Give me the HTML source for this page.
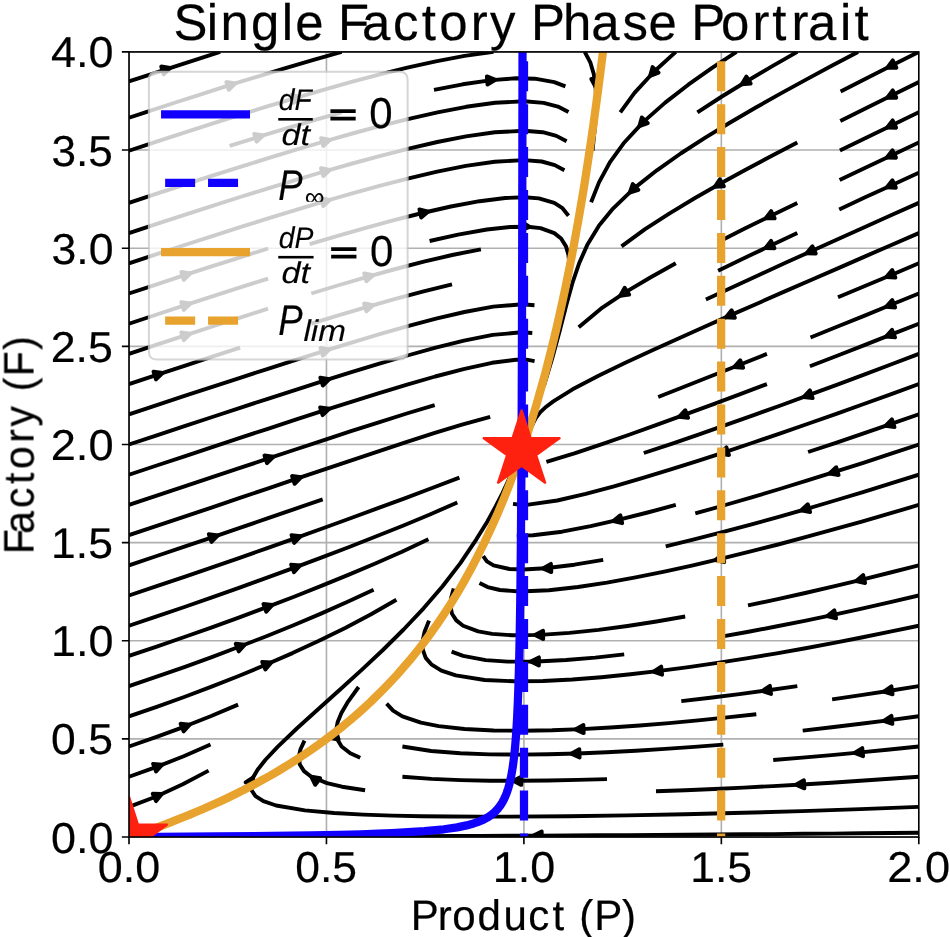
<!DOCTYPE html>
<html lang="en"><head><meta charset="utf-8"><title>Single Factory Phase Portrait</title>
<style>html,body{margin:0;padding:0;background:#fff}body{width:950px;height:937px;overflow:hidden}svg{display:block}text{font-family:"Liberation Sans",sans-serif;font-size:100px;fill:#000;stroke:#000;stroke-width:0.45px;text-rendering:geometricPrecision}</style>
</head><body>
<svg width="950" height="937" viewBox="0 0 950 937">
<defs><clipPath id="ax"><rect x="129" y="51.9" width="789.8" height="785.15"/></clipPath></defs>
<rect width="950" height="937" fill="#fff"/>
<g clip-path="url(#ax)">
<path id="grid" d="M129 51.9V837.05M326.45 51.9V837.05M523.9 51.9V837.05M721.35 51.9V837.05M918.8 51.9V837.05M129 837.05H918.8M129 738.91H918.8M129 640.76H918.8M129 542.62H918.8M129 444.47H918.8M129 346.33H918.8M129 248.19H918.8M129 150.04H918.8M129 51.9H918.8" fill="none" stroke="#b0b0b0" stroke-width="1.63"/>
<g id="streamlines" fill="none" stroke="#000" stroke-width="3.9" stroke-linejoin="round">
<path d="M918.8 832.8 L890.6 833 L861.4 833.3 L832.1 833.6 L802.9 833.8 L773.6 834.1 L744.4 834.3 L715.1 834.5 L685.9 834.7 L656.6 834.9 L627.4 835.1 L598.1 835.3 L568.9 835.4 L539.6 835.6 L510.4 835.7 L481.1 835.9 L451.9 836 L422.6 836.1 L393.4 836.2 L364.1 836.3 L334.9 836.5 L305.6 836.6 L276.4 836.7 L247.1 836.7 L217.9 836.8 L188.6 836.9 L159.4 837 L159.4 837"/>
<path d="M918.8 806.9 L860.3 809.1 L801.9 811.1 L743.4 812.8 L684.9 814.2 L626.4 815.4 L567.9 816.2 L509.4 816.6 L480.2 816.6 L450.9 816.5 L421.7 816.2 L392.4 815.6 L363.2 814.6 L334 813 L304.9 810.4 L276.1 805.5 L276.1 805.5 L263.4 801.2 L263.4 801.2 L255.5 796.1 L251.7 790.5 L251.2 783.6 L253.2 777.3 L257.6 769.7 L265.3 760 L277.6 746.9 L296.8 728.5 L318.4 709 L340.1 689.5 L361.7 669.9 L382.9 650 L403.6 629.5 L423.6 608.3 L442.6 586.3 L460.2 563.4 L476.2 539.6 L476.2 539.6 L487.4 521.4 L487.4 521.4 L495.9 506 L495.9 506 L502.5 493.1 L502.5 493.1 L507.4 482.7 L511.3 473.3 L511.3 473.3 L513.6 469.1 L515.3 465.8 L516.9 461.8 L516.9 461.8 L518.2 457.9 L518.2 457.9 L518.6 455.8 L518.6 455.8 L520.7 452.9 L521 452.4 L521.1 451.8 L520.7 451.5 L520.7 451.5 L521.3 450.9 L521.2 450.9 L520.9 450.9 L521.1 450.8 L521.4 450.6 L520.9 450.8 L521.2 450.7 L521 450.7 L521.4 450.6 L521.4 450.6"/>
<path d="M918.8 776.7 L918.8 776.7 L889.6 778.8 L860.4 780.8 L831.3 782.7 L802.1 784.5 L772.9 786.1 L743.6 787.6 L714.4 789 L685.2 790.2 L656 791.3"/>
<path d="M918.8 746.5 L918.8 746.5 L889.7 749.5 L860.6 752.4 L831.5 755.1 L802.3 757.6 L773.2 760"/>
<path d="M918.8 716.3 L918.8 716.3 L889.8 720.1 L860.8 723.8 L831.8 727.3 L802.7 730.6"/>
<path d="M918.8 686.1 L918.8 686.1 L889.9 690.7 L861 695.1 L832.1 699.4"/>
<path d="M918.8 625.7 L918.8 625.7 L890.2 631.7 L861.5 637.5 L832.8 643.1 L804.1 648.5 L775.3 653.6 L746.4 658.4 L717.5 662.9 L688.6 667.1 L659.6 670.9 L630.5 674.3 L601.4 677.2 L572.3 679.5 L543.1 681 L513.8 681.3 L484.6 680 L455.8 675.4 L455.8 675.4 L441.4 670.6 L441.4 670.6 L431.7 664.7 L431.7 664.7 L425.7 657.9 L422.7 649.3 L422.6 641 L424.6 631.7 L429 620.6"/>
<path d="M918.8 595.5 L918.8 595.5 L890.3 602.1 L861.8 608.6 L833.2 614.8 L804.6 620.8 L775.9 626.5 L747.2 632 L718.4 637.1"/>
<path d="M918.8 565.3 L918.8 565.3 L890.5 572.5 L862.1 579.6 L833.7 586.4 L805.2 593 L776.6 599.3 L748 605.4"/>
<path d="M918.8 504.9 L918.8 504.9 L890.8 513.2 L862.7 521.3 L834.5 529.2 L806.3 536.9 L778.1 544.5 L749.7 551.7 L721.3 558.7 L692.9 565.3 L664.3 571.6 L635.6 577.4 L606.9 582.6 L578 587 L548.9 590.3 L519.7 591.5 L519.7 591.5 L499.9 590 L499.9 590 L487.6 587.1 L487.6 587.1 L479.5 582.9 L479.5 582.9"/>
<path d="M918.8 474.7 L918.8 474.7 L890.9 483.4 L863 492.1 L835 500.5 L806.9 508.8 L778.8 516.8 L750.7 524.6 L722.4 532.2 L694.1 539.4 L665.7 546.3"/>
<path d="M918.8 444.5 L918.8 444.5 L891.1 453.7 L863.3 462.8 L835.4 471.7 L807.5 480.4 L779.6 489 L751.6 497.4 L723.5 505.5 L695.3 513.4"/>
<path d="M918.8 414.3 L918.8 414.3 L891.2 423.9 L863.6 433.4 L835.9 442.8 L808.1 452"/>
<path d="M918.8 384.1 L918.8 384.1 L891.3 394.1 L863.8 404 L836.3 413.8 L808.7 423.5 L781.1 433.1 L753.4 442.5 L725.7 451.8 L697.9 460.8 L670 469.7 L642.1 478.2 L614 486.3 L585.7 493.9 L557.3 500.5 L528.4 504.6 L528.4 504.6 L520 504.8 L520 504.8 L513 503.9 L513 503.9"/>
<path d="M918.8 353.9 L918.8 353.9 L891.5 364.3 L864.1 374.6 L836.7 384.8 L809.3 394.9 L781.9 405 L754.4 414.9 L726.8 424.7 L699.2 434.3 L671.6 443.8 L643.8 453"/>
<path d="M918.8 323.7 L918.8 323.7 L891.6 334.4 L864.4 345.1 L837.2 355.7 L809.9 366.3"/>
<path d="M918.8 293.5 L918.8 293.5 L891.7 304.5 L864.7 315.6 L837.6 326.5 L810.5 337.5"/>
<path d="M918.8 263.3 L918.8 263.3 L891.9 274.7 L864.9 286 L838 297.3"/>
<path d="M918.8 233.1 L918.8 233.1 L892 244.7 L865.2 256.4 L838.4 268.1 L811.6 279.7 L784.8 291.4 L758.1 303.2 L731.3 314.9 L704.6 326.7 L677.9 338.7 L651.3 350.7 L624.8 363 L598.5 375.8 L572.6 389.3 L572.6 389.3 L553.3 401.4 L553.3 401.4 L546.2 406.7 L546.2 406.7 L540.1 412.4 L540.1 412.4 L535.8 418.2 L535.8 418.2 L532.9 423.7 L530.6 428.7"/>
<path d="M918.8 202.9 L918.8 202.9 L892.1 214.8 L865.5 226.8 L838.8 238.8 L812.2 250.8 L785.5 262.8 L759 275 L732.4 287.2 L705.9 299.5"/>
<path d="M918.8 172.7 L918.8 172.7 L892.2 184.9 L865.7 197.1 L839.2 209.4"/>
<path d="M918.8 142.5 L918.8 142.5 L892.4 154.9 L865.9 167.4 L839.6 180"/>
<path d="M918.8 112.3 L918.8 112.3 L892.5 125 L866.2 137.7 L839.9 150.5"/>
<path d="M918.8 82.1 L918.8 82.1 L892.6 95 L866.4 108 L840.3 121.1"/>
<path d="M918.8 51.9 L918.8 51.9 L892.7 65 L866.6 78.2 L840.6 91.6"/>
<path d="M858 51.9 L858 51.9 L832.2 65.5 L806.5 79.4 L780.9 93.4 L755.4 107.8 L730.2 122.5 L705.3 137.7 L680.7 153.5 L656.9 170.3 L634 188.4 L613 208.6 L613 208.6 L599.1 225.5 L587.2 245.1 L579.2 263.1 L572.8 281.8 L566.8 303.2 L559.8 330.4 L552.2 358.4 L543.9 385.9 L543.9 385.9"/>
<path d="M797.3 51.9 L797.3 51.9 L771.9 66.4 L746.8 81.2 L721.9 96.5 L697.4 112.4"/>
<path d="M736.5 51.9 L736.5 51.9 L712.1 67.9 L688.3 84.7 L665.2 102.6 L643.4 121.9 L623.6 143.3 L623.6 143.3 L610.2 161.8 L599 182.4 L591.1 202.3"/>
<path d="M675.8 51.9 L675.8 51.9 L654.2 71.5 L634.5 92.9 L634.5 92.9 L620.3 112.4"/>
<path d="M584.7 51.9 L584.7 51.9 L584.7 51.9 L590.3 62.4 L593.7 73.7 L595.6 87.2 L596.2 103.8 L595.2 124.6 L592.5 150.9"/>
<path d="M129 150.7 L155 142.2 L182.8 133.1 L210.6 124.2 L238.5 115.4 L266.4 106.7 L294.4 98.3 L322.5 90.1 L350.6 82.2 L378.9 74.7 L407.3 67.7 L435.8 61.3 L464.6 55.9 L493.5 51.9 L493.5 51.9"/>
<path d="M129 117.7 L146.1 112.1 L173.9 103 L201.7 94.1 L229.5 85.2 L257.5 76.6 L285.5 68.1 L313.5 59.9 L341.6 51.9 L341.6 51.9"/>
<path d="M129 81.4 L136.7 78.9 L164.5 69.8 L192.3 60.8 L220.1 51.9 L220.1 51.9"/>
<path d="M129 202.9 L129 202.9 L156.8 193.7 L184.6 184.7 L212.4 175.7 L240.3 166.9 L268.2 158.2 L296.2 149.7 L324.2 141.5 L352.3 133.5 L380.6 125.9 L408.9 118.8 L437.5 112.3 L466.2 106.8 L495.1 102.8 L524.3 101.3 L524.3 101.3 L543.6 102.9 L543.6 102.9 L557.9 106.6 L557.9 106.6 L568.5 112.1"/>
<path d="M129 233.1 L129 233.1 L156.8 223.9 L184.6 214.9 L212.4 205.9 L240.2 197 L268.2 188.3 L296.1 179.8 L324.2 171.5 L352.3 163.5 L380.5 155.8 L408.8 148.6 L437.3 142 L466 136.4 L494.9 132.3 L524.1 130.7 L524.1 130.7 L542.7 132.2 L542.7 132.2 L556.4 135.9 L556.4 135.9 L566.6 141.3"/>
<path d="M129 263.3 L129 263.3 L156.8 254.1 L184.6 245 L212.4 236.1 L240.2 227.2 L268.1 218.4 L296.1 209.9 L324.1 201.5 L352.2 193.4 L380.4 185.7 L408.7 178.4 L437.2 171.7 L465.8 165.9 L494.7 161.7 L523.9 160.1 L523.9 160.1 L541.7 161.5 L541.7 161.5 L554.8 165.1 L554.8 165.1 L564.4 170.3"/>
<path d="M129 293.5 L129 293.5 L156.8 284.3 L184.5 275.2 L212.4 266.2 L240.2 257.3 L268.1 248.5"/>
<path d="M129 323.7 L129 323.7 L156.8 314.5 L184.5 305.4 L212.3 296.4 L240.2 287.4 L268.1 278.6"/>
<path d="M129 353.9 L129 353.9 L156.8 344.7 L184.5 335.6 L212.3 326.5 L240.2 317.6 L268 308.7"/>
<path d="M129 384.1 L129 384.1 L156.8 374.9 L184.5 365.8 L212.3 356.7 L240.1 347.7"/>
<path d="M129 414.3 L129 414.3 L156.8 405.1 L184.5 395.9 L212.3 386.8 L240.1 377.8 L267.9 368.8 L295.8 359.9 L323.7 351.1 L351.6 342.6 L379.6 334.2 L407.8 326.2 L436 318.7 L464.5 312 L493.2 306.6 L522.3 304.3 L522.3 304.3 L534.5 305.2 L534.5 305.2"/>
<path d="M129 444.5 L129 444.5 L156.8 435.3 L184.5 426.1 L212.3 417 L240.1 407.8 L267.8 398.8 L295.7 389.8 L323.5 380.9 L351.4 372.2 L379.4 363.7 L407.5 355.5 L435.7 347.7 L464 340.7 L492.7 334.9 L521.7 332.3 L521.7 332.3 L532.3 333 L532.3 333"/>
<path d="M129 474.7 L129 474.7 L156.7 465.5 L184.5 456.3 L212.2 447.1 L240 437.9 L267.8 428.8 L295.6 419.7 L323.4 410.7 L351.2 401.8 L379.1 393.1 L407.1 384.6 L435.2 376.5 L463.5 369.1 L492 362.8 L492 362.8 L516 359.7 L516 359.7 L526.5 359.7 L526.5 359.7 L534.6 361.2 L534.6 361.2"/>
<path d="M129 504.9 L129 504.9 L156.7 495.7 L184.5 486.4 L212.2 477.2 L240 467.9 L267.7 458.7 L295.4 449.5 L323.2 440.3 L351 431.2 L378.8 422.3 L406.7 413.5 L434.7 405.1"/>
<path d="M129 535.1 L129 535.1 L156.7 525.8 L184.5 516.6 L212.2 507.3 L239.9 497.9 L267.6 488.6 L295.3 479.2 L323 469.9 L350.7 460.6 L378.4 451.3 L406.2 442.2 L434 433.2 L462 424.7 L490.2 416.9 L490.2 416.9"/>
<path d="M129 565.3 L129 565.3 L156.7 556 L184.4 546.7 L212.1 537.3 L239.8 527.9 L267.4 518.4 L295.1 508.8 L322.7 499.3"/>
<path d="M129 595.5 L129 595.5 L156.7 586.2 L184.4 576.8 L212.1 567.4 L239.7 557.8 L267.3 548.1 L294.8 538.3 L322.3 528.5 L349.8 518.5 L377.3 508.4 L404.7 498.3 L432.1 488 L459.4 477.6"/>
<path d="M129 625.7 L129 625.7 L156.7 616.4 L184.4 607 L212 597.4 L239.6 587.6 L267.1 577.7 L294.5 567.6 L321.9 557.4 L349.2 547 L376.4 536.3 L403.5 525.5 L430.5 514.2 L457.3 502.5"/>
<path d="M129 655.9 L129 655.9 L156.7 646.6 L184.4 637 L211.9 627.3 L239.4 617.3 L266.8 607.1 L294.1 596.7 L321.3 585.9 L348.3 574.9 L375.3 563.5 L402 551.7 L428.4 539.3"/>
<path d="M129 686.1 L129 686.1 L156.7 676.7 L184.3 667.1 L211.8 657.1 L239.1 646.8 L266.4 636.2 L293.5 625.2 L320.4 613.9 L347.1 602 L373.6 589.7"/>
<path d="M129 716.3 L129 716.3 L156.7 706.8 L184.2 697 L211.6 686.7 L238.7 676 L265.7 664.8 L292.5 653.1 L319 640.8 L345.2 627.9 L371.1 614.3 L396.4 599.7"/>
<path d="M129 746.5 L129 746.5 L156.6 736.9 L184 726.8 L211.2 716 L238.1 704.6"/>
<path d="M129 776.7 L129 776.7 L156.6 766.9 L183.7 756.2 L210.5 744.5"/>
<path d="M129 806.9 L129 806.9 L156.3 796.5 L182.8 784.3 L208.6 770.6"/>
<path d="M434 89.9 L462.7 84.3 L491.6 80.1 L516.2 78.3 L534.8 78.7 L554.3 82.1 L554.3 82.1 L554.3 82.1 L565.4 86.4 L565.4 86.4"/>
<path d="M365.1 790.2 L342 786.7 L327 783.1 L311.3 776.7 L311.3 776.7 L311.3 776.7 L304 771.1 L304 771.1 L299.8 764.5 L298.8 756.6 L300.5 749.2 L304.5 740.6"/>
<path d="M607 779.1 L577.8 779.9 L548.5 780.5 L519.3 780.8 L490 780.7 L460.8 780.1 L431.5 778.9 L402.4 776.7"/>
<path d="M229.6 145.9 L257.5 137.2 L285.5 128.7 L313.5 120.3 L341.6 112.3"/>
<path d="M360.2 757.8 L350.3 753.3 L341.6 746.5 L341.6 746.5 L341.6 746.5 L341.6 746.5 L337.1 738.9 L336.1 730.5 L337.6 722.3 L341.4 713 L348.1 701.6 L358.6 687"/>
<path d="M723.3 744.6 L694.2 746.9 L665 748.9 L635.8 750.8 L606.6 752.3 L577.4 753.5 L548.1 754.3 L518.9 754.6 L489.6 754.4 L460.4 753.3 L431.2 751 L402.4 746.5 L402.4 746.5"/>
<path d="M797.3 142.5 L771.4 156 L745.6 169.8 L720 183.8 L694.6 198.3 L669.6 213.3 L645.1 229.2 L621.5 246.4"/>
<path d="M756.3 714.2 L727.2 717.4 L698.1 720.4 L669 723.1 L639.8 725.5 L610.6 727.5 L581.4 729.1 L552.2 730.3 L523 730.8 L493.7 730.5 L464.5 729 L438.7 726.1 L420.9 722.7 L402.4 716.3 L402.4 716.3 L402.4 716.3 L393.1 710.7 L393.1 710.7 L386.6 703.7"/>
<path d="M797.3 686.1 L768.3 690.2 L739.4 694.1 L710.3 697.7 L681.3 701.1"/>
<path d="M797.3 233.1 L770.8 245.5 L744.4 258 L718.1 270.7"/>
<path d="M797.3 202.9 L771 215.7 L744.8 228.6 L718.8 241.8"/>
<path d="M766.9 384.1 L739.6 394.4 L712.2 404.6 L684.8 414.7 L657.3 424.7 L629.8 434.5 L602.1 444.1 L574.4 453.4 L546.4 461.8 L546.4 461.8"/>
<path d="M766.9 353.9 L739.8 364.7 L712.6 375.5 L685.4 386.3 L658.2 397"/>
<path d="M309.7 244.2 L337.7 235.8 L365.8 227.8 L394 220.1 L422.4 213 L450.9 206.5 L479.6 201.2 L505.2 198 L524.7 197.3 L538.9 198.4 L554.3 202.9 L554.3 202.9 L554.3 202.9 L562.1 207.8 L568.5 215.7"/>
<path d="M624.2 654.4 L595.2 657.6 L566 660 L536.8 661.5 L507.6 661.6 L485.7 660.1 L463.1 655.9 L463.1 655.9 L463.1 655.9 L451.6 651.6 L451.6 651.6"/>
<path d="M429.6 241 L458.1 234.6 L486.9 229.5 L510.2 227 L527.7 226.7 L540.5 228.1 L554.3 233.1 L554.3 233.1 L554.3 233.1 L561.1 238.5 L566 246.4 L568.4 254.6 L569.4 264.5 L568.9 276.7"/>
<path d="M311.3 293.5 L339.3 285 L367.3 276.8 L395.5 269 L423.8 261.6 L452.2 255 L480.9 249.4"/>
<path d="M311.3 323.7 L339.2 315.1 L367.3 306.8 L395.4 298.8 L423.6 291.3 L452 284.4"/>
<path d="M685.2 616.5 L656.4 621.5 L627.5 626 L598.5 629.9 L569.4 632.9 L540.2 634.9 L512.7 635.3 L492.2 633.9 L478.2 631.4 L463.1 625.7 L463.1 625.7 L463.1 625.7 L456.3 620.4 L456.3 620.4 L452 613.8 L450.5 606 L451.1 597.9 L453.7 588.4"/>
<path d="M675.8 263.3 L650.3 277.5 L625.2 292.4 L600.9 308.7 L578.7 327.3 L578.7 327.3"/>
<path d="M675.8 504.9 L647.6 512.5 L619.2 519.7 L590.7 526.2 L562 531.7 L533 535.3 L533 535.3 L516.8 535.6 L516.8 535.6"/>
<path d="M603.2 559.8 L574.4 564.7 L545.3 568.3 L523.5 569.5 L509.4 569 L493.5 565.3 L493.5 565.3 L493.5 565.3 L486.9 561.3 L486.9 561.3 L483.2 556.1"/>
</g>
<g id="arrows" fill="#000" stroke="#000" stroke-width="3.9" stroke-linejoin="round">
<path d="M541.7 839.6 L533.6 835.6 L541.7 831.5Z"/>
<path d="M245.6 782.4 L253.2 777.4 L252.6 786.5Z"/>
<path d="M804.4 788.4 L796 784.8 L803.9 780.3Z"/>
<path d="M863.1 756.2 L854.6 752.9 L862.3 748.1Z"/>
<path d="M892.4 723.9 L883.8 720.9 L891.4 715.8Z"/>
<path d="M892.6 694.4 L883.9 691.6 L891.4 686.4Z"/>
<path d="M662.1 674.7 L653.6 671.6 L661.2 666.6Z"/>
<path d="M836.1 618.4 L827.3 616 L834.4 610.4Z"/>
<path d="M865.1 583 L856.2 581 L863.2 575.1Z"/>
<path d="M724.3 562.2 L715.4 560.1 L722.5 554.2Z"/>
<path d="M810.1 512.1 L801.1 510.4 L807.8 504.3Z"/>
<path d="M838.6 475 L829.6 473.5 L836.2 467.2Z"/>
<path d="M894.5 427.1 L885.5 425.9 L891.9 419.4Z"/>
<path d="M729 455 L719.9 453.7 L726.4 447.3Z"/>
<path d="M812.7 398.1 L803.6 397 L809.9 390.4Z"/>
<path d="M895.1 337.4 L886 336.6 L892.1 329.9Z"/>
<path d="M895.2 307.5 L886.1 306.8 L892.2 300Z"/>
<path d="M895.4 277.6 L886.3 277 L892.2 270.1Z"/>
<path d="M734.9 317.8 L725.8 317.4 L731.6 310.3Z"/>
<path d="M815.8 253.6 L806.6 253.3 L812.4 246.2Z"/>
<path d="M895.9 187.7 L886.7 187.4 L892.4 180.3Z"/>
<path d="M896 157.7 L886.9 157.5 L892.5 150.3Z"/>
<path d="M896.1 127.7 L887 127.6 L892.6 120.4Z"/>
<path d="M896.3 97.7 L887.2 97.7 L892.7 90.4Z"/>
<path d="M896.4 67.7 L887.3 67.7 L892.7 60.4Z"/>
<path d="M638.4 189.9 L629.7 192.6 L632.8 184Z"/>
<path d="M750.7 83.6 L741.6 84.4 L746.4 76.6Z"/>
<path d="M647.8 123.1 L639.3 126.3 L641.8 117.5Z"/>
<path d="M658.6 72.6 L650.1 75.9 L652.6 67.1Z"/>
<path d="M599.4 78.7 L595.6 87 L591.3 79Z"/>
<path d="M291.3 95 L300.3 96.6 L293.6 102.8Z"/>
<path d="M226.3 82 L235.3 83.4 L228.8 89.8Z"/>
<path d="M161.2 66.5 L170.2 67.9 L163.7 74.3Z"/>
<path d="M321.1 138.1 L330 139.8 L323.3 146Z"/>
<path d="M321 168.1 L330 169.8 L323.3 176Z"/>
<path d="M321 198.2 L329.9 199.8 L323.2 206Z"/>
<path d="M181.3 272 L190.3 273.4 L183.8 279.8Z"/>
<path d="M181.3 302.2 L190.3 303.5 L183.8 309.9Z"/>
<path d="M181.3 332.4 L190.3 333.7 L183.8 340.1Z"/>
<path d="M153.5 371.7 L162.5 373 L156 379.4Z"/>
<path d="M320.5 347.9 L329.5 349.4 L322.9 355.7Z"/>
<path d="M320.3 377.7 L329.3 379.1 L322.8 385.5Z"/>
<path d="M320.1 407.4 L329.2 408.8 L322.6 415.2Z"/>
<path d="M264.4 455.5 L273.4 456.8 L267 463.2Z"/>
<path d="M292 476 L301 477.3 L294.6 483.8Z"/>
<path d="M208.8 534.2 L217.9 535.4 L211.5 541.9Z"/>
<path d="M291.5 535.2 L300.5 536.3 L294.2 542.9Z"/>
<path d="M291.1 564.6 L300.2 565.5 L294 572.2Z"/>
<path d="M263.4 604 L272.4 604.9 L266.3 611.7Z"/>
<path d="M235.7 643.8 L244.8 644.6 L238.7 651.4Z"/>
<path d="M262.2 661.9 L271.3 662.4 L265.4 669.4Z"/>
<path d="M180.6 723.8 L189.7 724.6 L183.6 731.4Z"/>
<path d="M153.1 763.9 L162.2 764.7 L156.1 771.5Z"/>
<path d="M152.7 793.7 L161.8 794 L156.1 801.1Z"/>
<path d="M486.9 76.4 L495.4 79.8 L487.5 84.5Z"/>
<path d="M315.2 784.8 L311.2 776.6 L320.2 778.2Z"/>
<path d="M521.3 784.9 L513.2 780.8 L521.4 776.7Z"/>
<path d="M254.3 133.9 L263.3 135.4 L256.7 141.7Z"/>
<path d="M330.5 738.1 L336 730.8 L338.6 739.6Z"/>
<path d="M579.6 757.5 L571.3 753.7 L579.3 749.3Z"/>
<path d="M723.9 186.3 L714.8 186.8 L719.8 179.2Z"/>
<path d="M583.7 733.1 L575.4 729.4 L583.4 725Z"/>
<path d="M771 694 L762.3 691 L769.9 685.9Z"/>
<path d="M774.5 248.3 L765.4 248.1 L771 240.9Z"/>
<path d="M774.7 218.4 L765.6 218.4 L771.1 211.1Z"/>
<path d="M688.1 417.9 L679.1 416.8 L685.3 410.2Z"/>
<path d="M743.2 367.7 L734.1 367 L740.2 360.2Z"/>
<path d="M419.4 209.4 L428.3 211.6 L421.2 217.4Z"/>
<path d="M538.9 665.6 L530.8 661.5 L538.9 657.4Z"/>
<path d="M522 221.9 L529.6 226.9 L521.1 230.1Z"/>
<path d="M364.2 273.5 L373.2 275.2 L366.4 281.3Z"/>
<path d="M364.1 303.5 L373.1 305.2 L366.4 311.3Z"/>
<path d="M543.2 639 L535 635 L543.1 630.8Z"/>
<path d="M629.2 294.6 L620.2 295.8 L624.7 287.8Z"/>
<path d="M622.2 523.2 L613.3 521 L620.3 515.2Z"/>
<path d="M551.3 572.1 L543 568.5 L550.9 563.9Z"/>
</g>
<path id="dPdt" d="M129 837 L135.7 834.8 L142.4 832.5 L149.1 830.2 L155.8 827.8 L162.5 825.3 L169.2 822.8 L175.9 820.2 L182.5 817.5 L189.2 814.8 L195.9 812 L202.6 809.2 L209.3 806.3 L216 803.3 L222.7 800.2 L229.4 797 L236.1 793.7 L242.8 790.4 L249.5 786.9 L256.2 783.4 L262.9 779.7 L269.6 776 L276.3 772.1 L282.9 768.1 L289.6 764 L296.3 759.8 L303 755.4 L309.7 750.9 L316.4 746.2 L323.1 741.4 L329.8 736.4 L336.5 731.2 L343.2 725.9 L349.9 720.3 L356.6 714.6 L363.3 708.6 L370 702.5 L376.6 696 L383.3 689.3 L390 682.4 L396.7 675.2 L403.4 667.6 L410.1 659.8 L416.8 651.5 L423.5 643 L430.2 634 L436.9 624.6 L443.6 614.7 L450.3 604.4 L457 593.6 L463.7 582.1 L470.4 570.1 L477 557.4 L483.7 544 L490.4 529.8 L497.1 514.8 L503.8 498.8 L510.5 481.9 L517.2 463.8 L523.9 444.5 L526.1 437.9 L528.3 431.2 L530.4 424.3 L532.6 417.3 L534.8 410.1 L537 402.8 L539.1 395.2 L541.3 387.5 L543.5 379.6 L545.7 371.5 L547.8 363.2 L550 354.7 L552.2 345.9 L554.4 337 L556.6 327.8 L558.7 318.3 L560.9 308.6 L563.1 298.7 L565.3 288.4 L567.4 277.9 L569.6 267 L571.8 255.9 L574 244.4 L576.1 232.6 L578.3 220.4 L580.5 207.8 L582.7 194.9 L584.9 181.5 L587 167.7 L589.2 153.4 L591.4 138.7 L593.6 123.4 L595.7 107.7 L597.9 91.4 L600.1 74.4 L602.3 56.9 L604.4 38.7 L606.6 19.8 L608.8 0.2" fill="none" stroke="#E8A22E" stroke-width="8.25" stroke-linejoin="round" stroke-linecap="square"/>
<path id="Plim" d="M721.15 18.4V847.05" fill="none" stroke="#E8A22E" stroke-width="8.25" stroke-dasharray="30 12.9"/>
<path id="dFdt" d="M128.6 837.05 L216.36 836.49 L272.2 835.93 L310.86 835.37 L339.21 834.81 L360.89 834.25 L378.01 833.69 L391.87 833.12 L424.35 831.19 L443.98 829.27 L457.12 827.34 L466.53 825.41 L473.61 823.48 L479.12 821.55 L483.54 819.62 L487.15 817.69 L490.17 815.76 L492.72 813.83 L494.91 811.9 L496.81 809.97 L498.47 808.04 L499.94 806.11 L501.25 804.18 L502.41 802.25 L503.47 800.32 L504.42 798.39 L505.28 796.46 L506.07 794.53 L506.8 792.6 L507.46 790.67 L508.08 788.74 L508.65 786.81 L509.18 784.88 L509.67 782.95 L510.13 781.02 L510.56 779.1 L510.97 777.17 L511.35 775.24 L511.7 773.31 L512.04 771.38 L512.36 769.45 L512.66 767.52 L512.94 765.59 L513.21 763.66 L513.47 761.73 L513.71 759.8 L513.95 757.87 L514.17 755.94 L514.38 754.01 L514.58 752.08 L514.78 750.15 L514.96 748.22 L515.14 746.29 L515.31 744.36 L515.47 742.43 L515.63 740.5 L515.78 738.57 L515.93 736.64 L516.07 734.71 L516.2 732.78 L516.33 730.86 L516.46 728.93 L516.58 727 L516.7 725.07 L516.81 723.14 L516.92 721.21 L517.03 719.28 L517.86 701.66 L518.5 684.05 L519.01 666.43 L519.42 648.82 L519.77 631.2 L520.06 613.58 L520.31 595.97 L520.53 578.35 L520.71 560.74 L520.88 543.12 L521.03 525.51 L521.16 507.89 L521.28 490.28 L521.38 472.66 L521.48 455.04 L521.57 437.43 L521.65 419.81 L521.73 402.2 L521.79 384.58 L521.86 366.97 L521.92 349.35 L521.97 331.74 L522.02 314.12 L522.07 296.5 L522.12 278.89 L522.16 261.27 L522.2 243.66 L522.24 226.04 L522.27 208.43 L522.3 190.81 L522.34 173.2 L522.37 155.58 L522.39 137.96 L522.42 120.35 L522.45 102.73 L522.47 85.12 L522.5 67.5 L522.52 49.89 L522.54 32.27" fill="none" stroke="#1200FF" stroke-width="8.25" stroke-linejoin="round" stroke-linecap="square"/>
<path id="Pinf" d="M524 18.4V847.05" fill="none" stroke="#1200FF" stroke-width="8.25" stroke-dasharray="30 12.9"/>
<path id="star-fixed-point" d="M521.6 409.8 L530.7 437.9 L560.2 437.9 L536.3 455.2 L545.5 483.2 L521.6 465.9 L497.7 483.2 L506.9 455.2 L483 437.9 L512.5 437.9Z" fill="#FF2110" stroke="#FF2110" stroke-width="2" stroke-linejoin="bevel"/>
<path id="star-origin" d="M129 796.4 L138.1 824.5 L167.6 824.5 L143.7 841.8 L152.9 869.9 L129 852.6 L105.1 869.9 L114.3 841.8 L90.4 824.5 L119.9 824.5Z" fill="#FF2110" stroke="#FF2110" stroke-width="2" stroke-linejoin="bevel"/>
</g>
<rect id="spines" x="129" y="51.9" width="789.8" height="785.15" fill="none" stroke="#000" stroke-width="1.63"/>
<path id="ticks" d="M129 837.05v7.14M326.45 837.05v7.14M523.9 837.05v7.14M721.35 837.05v7.14M918.8 837.05v7.14M129 837.05h-7.14M129 738.91h-7.14M129 640.76h-7.14M129 542.62h-7.14M129 444.47h-7.14M129 346.33h-7.14M129 248.19h-7.14M129 150.04h-7.14M129 51.9h-7.14" fill="none" stroke="#000" stroke-width="1.63"/>
<g id="legend">
<clipPath id="infclip"><rect x="300" y="180" width="40" height="21.7"/></clipPath>
<path d="M157.06 359.6H399.44Q407.6 359.6 407.6 351.44V79.96Q407.6 71.8 399.44 71.8H157.06Q148.9 71.8 148.9 79.96V351.44Q148.9 359.6 157.06 359.6Z" fill="#fff" stroke="#ccc" stroke-width="2.04" opacity="0.8"/>
<path d="M161.05 114.4H250" stroke="#1200FF" stroke-width="8.25"/>
<path d="M165.15 182.9H245.9" stroke="#1200FF" stroke-width="8.25" stroke-dasharray="30 12.9"/>
<path d="M161.05 252.1H250" stroke="#E8A22E" stroke-width="8.25"/>
<path d="M165.15 320.6H245.9" stroke="#E8A22E" stroke-width="8.25" stroke-dasharray="30 12.9"/>
<rect x="278.26" y="118" width="34.51" height="2.6" fill="#000"/>
<rect x="278.26" y="255.9" width="35.31" height="2.6" fill="#000"/>
<g id="legend-text" style="filter:grayscale(1)">
<text transform="matrix(0.2818 0 0 0.2984 278.79 109.71)" font-style="italic">dF</text>
<text transform="matrix(0.3414 0 0 0.2984 281.62 144.67)" font-style="italic">dt</text>
<text transform="matrix(0.4729 0 0 0.3070 329.19 125.49)" style="stroke-width:5.0px">=</text>
<text transform="matrix(0.4200 0 0 0.4312 369.21 128.05)">0</text>
<text transform="matrix(0.3664 0 0 0.4297 278.34 200.09)" font-style="italic">P</text>
<g clip-path="url(#infclip)"><text transform="matrix(0.2761 0 0 0.2715 304.86 206.14)">∞</text></g>
<text transform="matrix(0.2840 0 0 0.2984 278.78 247.61)" font-style="italic">dP</text>
<text transform="matrix(0.3414 0 0 0.2984 281.62 282.57)" font-style="italic">dt</text>
<text transform="matrix(0.4729 0 0 0.3070 329.99 263.39)" style="stroke-width:5.0px">=</text>
<text transform="matrix(0.4200 0 0 0.4312 370 265.95)">0</text>
<text transform="matrix(0.3664 0 0 0.4297 278.34 334.74)" font-style="italic">P</text>
<text transform="matrix(0.3327 0 0 0.2984 303.41 341.47)" font-style="italic">lim</text>
</g>
</g>
<g id="labels" style="filter:grayscale(1)">
<text transform="matrix(0.5089 0 0 0.5115 0 39.7)" x="341 406.5 433.3 493.1 553.8 580 637 664 711.2 772.1 828.8 863.3 924.9 962.7 1015.9 1043.3 1106.3 1162 1223.3 1274.1 1331.1 1358.5 1417 1478.7 1517.5 1555.3 1587.6 1650.6 1679.2">Single Factory Phase Portrait</text>
<text transform="matrix(0.4209 0 0 0.4263 0 929.7)" x="975.9 1040 1074.6 1134.2 1196.3 1255.3 1312.6 1346 1376.4 1412.1 1477.5">Product (P)</text>
<text transform="translate(33.3 444.47) rotate(-90) scale(0.4092 0.4257)" x="-267.7 -218.4 -155.1 -96.5 -59.8 4.1 43.8 98.2 130.1 166.6 231.2">Factory (F)</text>
<text transform="matrix(0.4495 0 0 0.4312 97.78 882.33)">0.0</text>
<text transform="matrix(0.4447 0 0 0.4312 295.24 882.33)">0.5</text>
<text transform="matrix(0.4495 0 0 0.4312 492.67 882.33)">1.0</text>
<text transform="matrix(0.4446 0 0 0.4297 690.15 882.33)">1.5</text>
<text transform="matrix(0.4523 0 0 0.4312 887.19 882.33)">2.0</text>
<text transform="matrix(0.4495 0 0 0.4312 51.05 852.55)">0.0</text>
<text transform="matrix(0.4447 0 0 0.4312 51.07 754.41)">0.5</text>
<text transform="matrix(0.4495 0 0 0.4312 51.05 656.26)">1.0</text>
<text transform="matrix(0.4446 0 0 0.4297 51.08 558.12)">1.5</text>
<text transform="matrix(0.4523 0 0 0.4312 50.67 459.97)">2.0</text>
<text transform="matrix(0.4475 0 0 0.4312 50.69 361.83)">2.5</text>
<text transform="matrix(0.4463 0 0 0.4312 51.48 263.69)">3.0</text>
<text transform="matrix(0.4415 0 0 0.4312 51.5 165.54)">3.5</text>
<text transform="matrix(0.4496 0 0 0.4312 51.03 67.4)">4.0</text>
</g>
</svg>
</body></html>
